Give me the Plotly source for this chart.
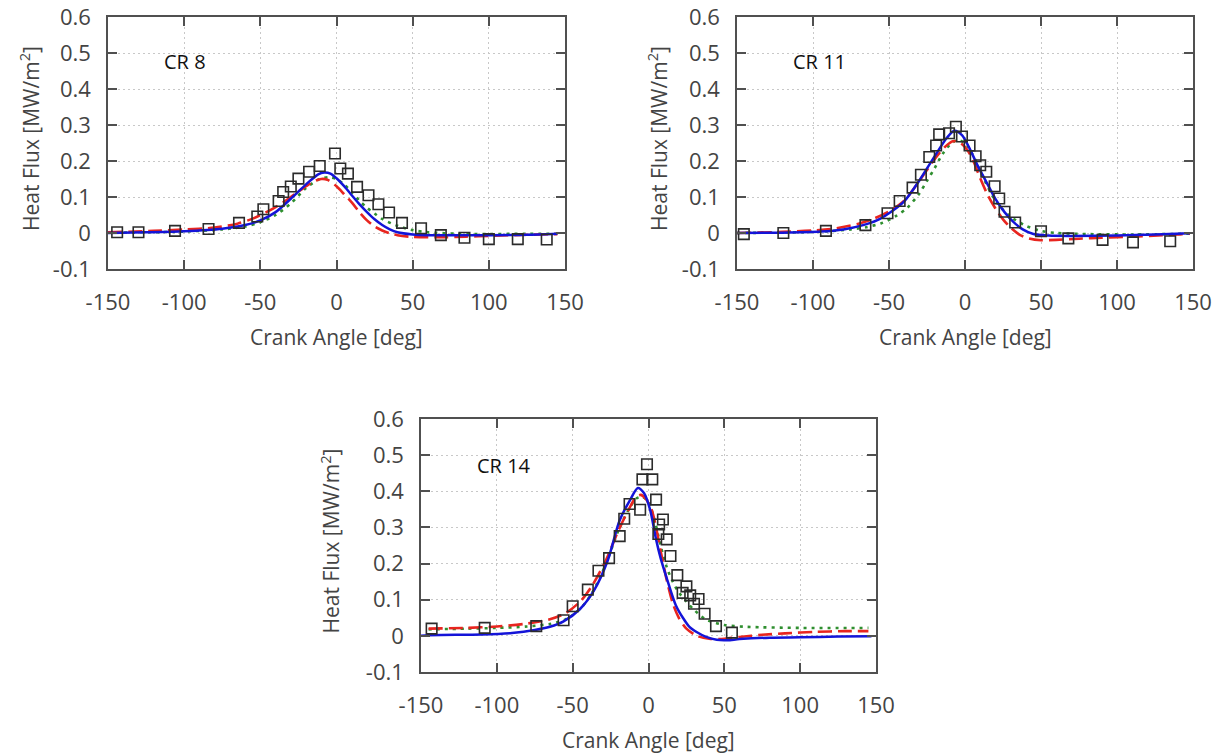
import plotly.graph_objects as go

# ---------------- data ----------------
X_TICKS = [-150, -100, -50, 0, 50, 100, 150]
X_TICK_LABELS = ["-150", "-100", "-50", "0", "50", "100", "150"]
Y_TICKS = [-0.1, 0, 0.1, 0.2, 0.3, 0.4, 0.5, 0.6]
Y_TICK_LABELS = ["-0.1", "0", "0.1", "0.2", "0.3", "0.4", "0.5", "0.6"]
PANEL_LABELS = ["CR 8", "CR 11", "CR 14"]
X_TITLE = "Crank Angle [deg]"
Y_TITLE = "Heat Flux [MW/m<sup>2</sup>]"

# CR 8
cr8_exp_x = [-144, -130, -106, -84, -64, -52, -48, -38, -35, -30, -25, -18, -11, -1, 2.5, 7.5,
             13.5, 21, 27.5, 34.5, 43, 55.5, 68.5, 84, 100, 119, 138]
cr8_exp_y = [0.002, 0.002, 0.006, 0.011, 0.028, 0.046, 0.066, 0.089, 0.114, 0.129, 0.151, 0.17,
             0.186, 0.221, 0.179, 0.165, 0.128, 0.105, 0.08, 0.057, 0.028, 0.013, -0.006, -0.013,
             -0.017, -0.017, -0.018]
cr8_solid_x = [-150, -125, -100, -75, -60, -50, -40, -30, -20, -12, -8, -4, 0, 5, 10, 15, 20, 25,
               30, 35, 40, 50, 60, 80, 100, 125, 145]
cr8_solid_y = [0.0, 0.002, 0.005, 0.012, 0.022, 0.035, 0.058, 0.095, 0.135, 0.163, 0.168, 0.165,
               0.152, 0.13, 0.105, 0.08, 0.058, 0.038, 0.022, 0.01, 0.002, -0.004, -0.006, -0.006,
               -0.006, -0.005, -0.002]
cr8_dash_x = [-150, -120, -100, -80, -65, -55, -45, -35, -25, -15, -10, -6, 0, 5, 10, 15, 20, 25,
              30, 35, 40, 50, 65, 85, 100, 125, 145]
cr8_dash_y = [0.002, 0.006, 0.01, 0.015, 0.026, 0.04, 0.06, 0.085, 0.115, 0.143, 0.15, 0.148, 0.13,
              0.108, 0.085, 0.058, 0.035, 0.018, 0.007, -0.001, -0.006, -0.011, -0.012, -0.01,
              -0.008, -0.005, -0.003]
cr8_dot_x = [-150, -100, -75, -60, -50, -40, -30, -20, -12, -5, 0, 5, 10, 15, 20, 25, 30, 40, 50,
             60, 80, 100, 125, 145]
cr8_dot_y = [0.001, 0.004, 0.01, 0.018, 0.03, 0.05, 0.082, 0.125, 0.148, 0.155, 0.15, 0.135, 0.113,
             0.09, 0.07, 0.054, 0.039, 0.02, 0.008, 0.002, -0.002, -0.003, -0.002, -0.002]

# CR 11
cr11_exp_x = [-145.5, -119.5, -91.5, -65.5, -51, -43, -34.5, -29, -23.5, -19, -17, -10.5, -6, -2,
              3, 7, 10, 14, 19.5, 22.5, 26, 33, 50, 68, 90.5, 110.5, 135]
cr11_exp_y = [-0.003, 0.0, 0.006, 0.022, 0.055, 0.089, 0.126, 0.162, 0.211, 0.243, 0.274, 0.277,
              0.295, 0.268, 0.243, 0.213, 0.188, 0.17, 0.13, 0.096, 0.059, 0.029, 0.005, -0.015,
              -0.019, -0.026, -0.023]
cr11_solid_x = [-150, -120, -95, -80, -67, -58, -50, -40, -30, -20, -12, -7, -2, 3, 8, 14, 20, 26,
                32, 38, 45, 55, 70, 100, 125, 148]
cr11_solid_y = [0.0, 0.001, 0.004, 0.01, 0.022, 0.035, 0.055, 0.088, 0.146, 0.213, 0.264, 0.284,
                0.272, 0.235, 0.19, 0.142, 0.095, 0.058, 0.03, 0.01, -0.003, -0.007, -0.008,
                -0.007, -0.004, -0.001]
cr11_dash_x = [-150, -120, -100, -85, -70, -60, -50, -40, -30, -20, -13, -8, -3, 2, 6, 10, 15, 20,
               25, 30, 36, 42, 50, 60, 75, 90, 110, 130, 148]
cr11_dash_y = [0.0, 0.003, 0.007, 0.013, 0.026, 0.04, 0.06, 0.09, 0.145, 0.205, 0.24, 0.255, 0.25,
               0.228, 0.195, 0.152, 0.105, 0.068, 0.038, 0.015, -0.005, -0.015, -0.02, -0.019,
               -0.016, -0.013, -0.01, -0.006, -0.002]
cr11_dot_x = [-150, -110, -90, -75, -65, -55, -45, -38, -30, -25, -20, -15, -10, -5, 0, 5, 10, 15,
              20, 25, 30, 40, 50, 60, 80, 110, 148]
cr11_dot_y = [0.0, 0.002, 0.005, 0.01, 0.016, 0.027, 0.048, 0.07, 0.11, 0.145, 0.18, 0.218, 0.245,
              0.258, 0.25, 0.218, 0.172, 0.128, 0.09, 0.065, 0.045, 0.02, 0.006, 0.0, -0.003,
              -0.004, -0.002]

# CR 14
cr14_exp_x = [-143, -108, -74, -56, -50, -40, -33, -26, -19, -16, -12.5, -5.5, -4, -1, 2.5, 5, 6.5,
              7, 9.5, 12, 14.5, 19, 22.5, 25, 27.5, 30, 33, 37, 44.5, 55]
cr14_exp_y = [0.02, 0.022, 0.027, 0.043, 0.082, 0.128, 0.18, 0.215, 0.276, 0.324, 0.365, 0.349,
              0.433, 0.475, 0.433, 0.377, 0.282, 0.308, 0.322, 0.267, 0.221, 0.168, 0.119, 0.137,
              0.112, 0.089, 0.102, 0.061, 0.027, 0.009]
cr14_solid_x = [-150, -145, -110, -90, -75, -65, -56, -45, -36, -27, -19, -12, -7, -3, 1, 5, 8, 12,
                18, 23, 27, 32, 38, 45, 52, 60, 80, 100, 125, 147]
cr14_solid_y = [0.0, 0.002, 0.004, 0.008, 0.016, 0.025, 0.04, 0.075, 0.125, 0.207, 0.32, 0.377,
                0.409, 0.395, 0.35, 0.267, 0.215, 0.16, 0.085, 0.048, 0.025, 0.01, -0.003, -0.011,
                -0.012, -0.009, -0.005, -0.004, -0.002, -0.001]
cr14_dash_x = [-145, -120, -100, -80, -65, -55, -45, -37, -28, -20, -13, -8, -5, -2, 2, 5, 8, 12,
               16, 20, 25, 32, 40, 50, 60, 75, 90, 110, 130, 145]
cr14_dash_y = [0.02, 0.022, 0.026, 0.034, 0.046, 0.062, 0.095, 0.14, 0.21, 0.29, 0.35, 0.385, 0.39,
               0.38, 0.35, 0.3, 0.235, 0.155, 0.09, 0.05, 0.02, 0.0, -0.008, -0.008, -0.003, 0.003,
               0.007, 0.011, 0.013, 0.013]
cr14_dot_x = [-145, -120, -100, -80, -65, -55, -45, -37, -28, -20, -13, -8, -4, 0, 4, 8, 12, 16,
              20, 25, 30, 38, 50, 65, 100, 145]
cr14_dot_y = [0.018, 0.02, 0.022, 0.026, 0.033, 0.045, 0.075, 0.12, 0.2, 0.29, 0.35, 0.38, 0.385,
              0.37, 0.32, 0.25, 0.19, 0.15, 0.12, 0.095, 0.072, 0.045, 0.03, 0.025, 0.022, 0.022]

PANELS = [
    (cr8_exp_x, cr8_exp_y, cr8_solid_x, cr8_solid_y, cr8_dash_x, cr8_dash_y, cr8_dot_x, cr8_dot_y),
    (cr11_exp_x, cr11_exp_y, cr11_solid_x, cr11_solid_y, cr11_dash_x, cr11_dash_y, cr11_dot_x, cr11_dot_y),
    (cr14_exp_x, cr14_exp_y, cr14_solid_x, cr14_solid_y, cr14_dash_x, cr14_dash_y, cr14_dot_x, cr14_dot_y),
]
LABEL_POS = [(-99.5, 0.475), (-95.5, 0.475), (-95.5, 0.472)]

# ---------------- layout geometry (pixels) ----------------
W, H = 1226, 756
# left, right, top, bottom of each plot area
BOXES = [(108, 565, 17, 269), (737, 1193, 17, 269), (421, 876, 419, 672)]
YTITLE_X = [32, 660, 332]

FONT = "Open Sans, Noto Sans, sans-serif"
TXT = "#444444"
FRAME = "#505050"

BLUE = "#1414d8"
RED = "#e8251f"
GREEN = "#2f8f2f"
SQ = "#2b2b2b"

fig = go.Figure()
annotations = []

for i, (ex, ey, sx, sy, dx, dy, gx, gy) in enumerate(PANELS):
    n = "" if i == 0 else str(i + 1)
    xa, ya = "x" + n, "y" + n
    fig.add_trace(go.Scatter(x=gx, y=gy, xaxis=xa, yaxis=ya, mode="lines",
                             line=dict(color=GREEN, width=2.6, dash="3px,5px", shape="spline", smoothing=0.8)))
    fig.add_trace(go.Scatter(x=dx, y=dy, xaxis=xa, yaxis=ya, mode="lines",
                             line=dict(color=RED, width=2.6, dash="14px,6px", shape="spline", smoothing=0.8)))
    fig.add_trace(go.Scatter(x=sx, y=sy, xaxis=xa, yaxis=ya, mode="lines",
                             line=dict(color=BLUE, width=2.5, shape="spline", smoothing=0.8)))
    fig.add_trace(go.Scatter(x=ex, y=ey, xaxis=xa, yaxis=ya, mode="markers",
                             marker=dict(symbol="square-open", size=10.5, color=SQ, line=dict(width=1.6, color=SQ))))

    l, r, t, b = BOXES[i]
    axis_common = dict(showline=True, linecolor=FRAME, linewidth=1.5, mirror="ticks",
                       ticks="inside", ticklen=9, tickwidth=1.5, tickcolor=FRAME,
                       showgrid=True, gridcolor="#c8c8c8", gridwidth=1, griddash="2px,3px",
                       zeroline=False, automargin=False,
                       tickfont=dict(family=FONT, size=22, color=TXT))
    fig.layout["xaxis" + n] = dict(axis_common, domain=[l / W, r / W], range=[-150, 150],
                                   tickmode="array", tickvals=X_TICKS, ticktext=X_TICK_LABELS,
                                   anchor=ya, ticklabelstandoff=13)
    fig.layout["yaxis" + n] = dict(axis_common, domain=[1 - b / H, 1 - t / H], range=[-0.1, 0.6],
                                   tickmode="array", tickvals=Y_TICKS, ticktext=Y_TICK_LABELS,
                                   anchor=xa, ticklabelstandoff=11)

    annotations.append(dict(text=X_TITLE, xref="paper", yref="paper", x=(l + r) / 2 / W,
                            y=1 - (b + 68) / H, xanchor="center", yanchor="middle", showarrow=False,
                            font=dict(family=FONT, size=21, color=TXT)))
    annotations.append(dict(text=Y_TITLE, xref="paper", yref="paper", x=(YTITLE_X[i] - 2) / W,
                            y=1 - ((t + b) / 2 - 4) / H, xanchor="center", yanchor="middle",
                            textangle=-90, showarrow=False,
                            font=dict(family=FONT, size=21, color=TXT)))
    lx, ly = LABEL_POS[i]
    annotations.append(dict(text=PANEL_LABELS[i], xref=xa, yref=ya, x=lx, y=ly,
                            xanchor="center", yanchor="middle", showarrow=False,
                            font=dict(family=FONT, size=20, color="#111111")))

fig.update_layout(template="none", width=W, height=H, margin=dict(l=0, r=0, t=0, b=0, pad=0),
                  paper_bgcolor="white", plot_bgcolor="white", showlegend=False,
                  annotations=annotations)

fig.write_html("out.html")
